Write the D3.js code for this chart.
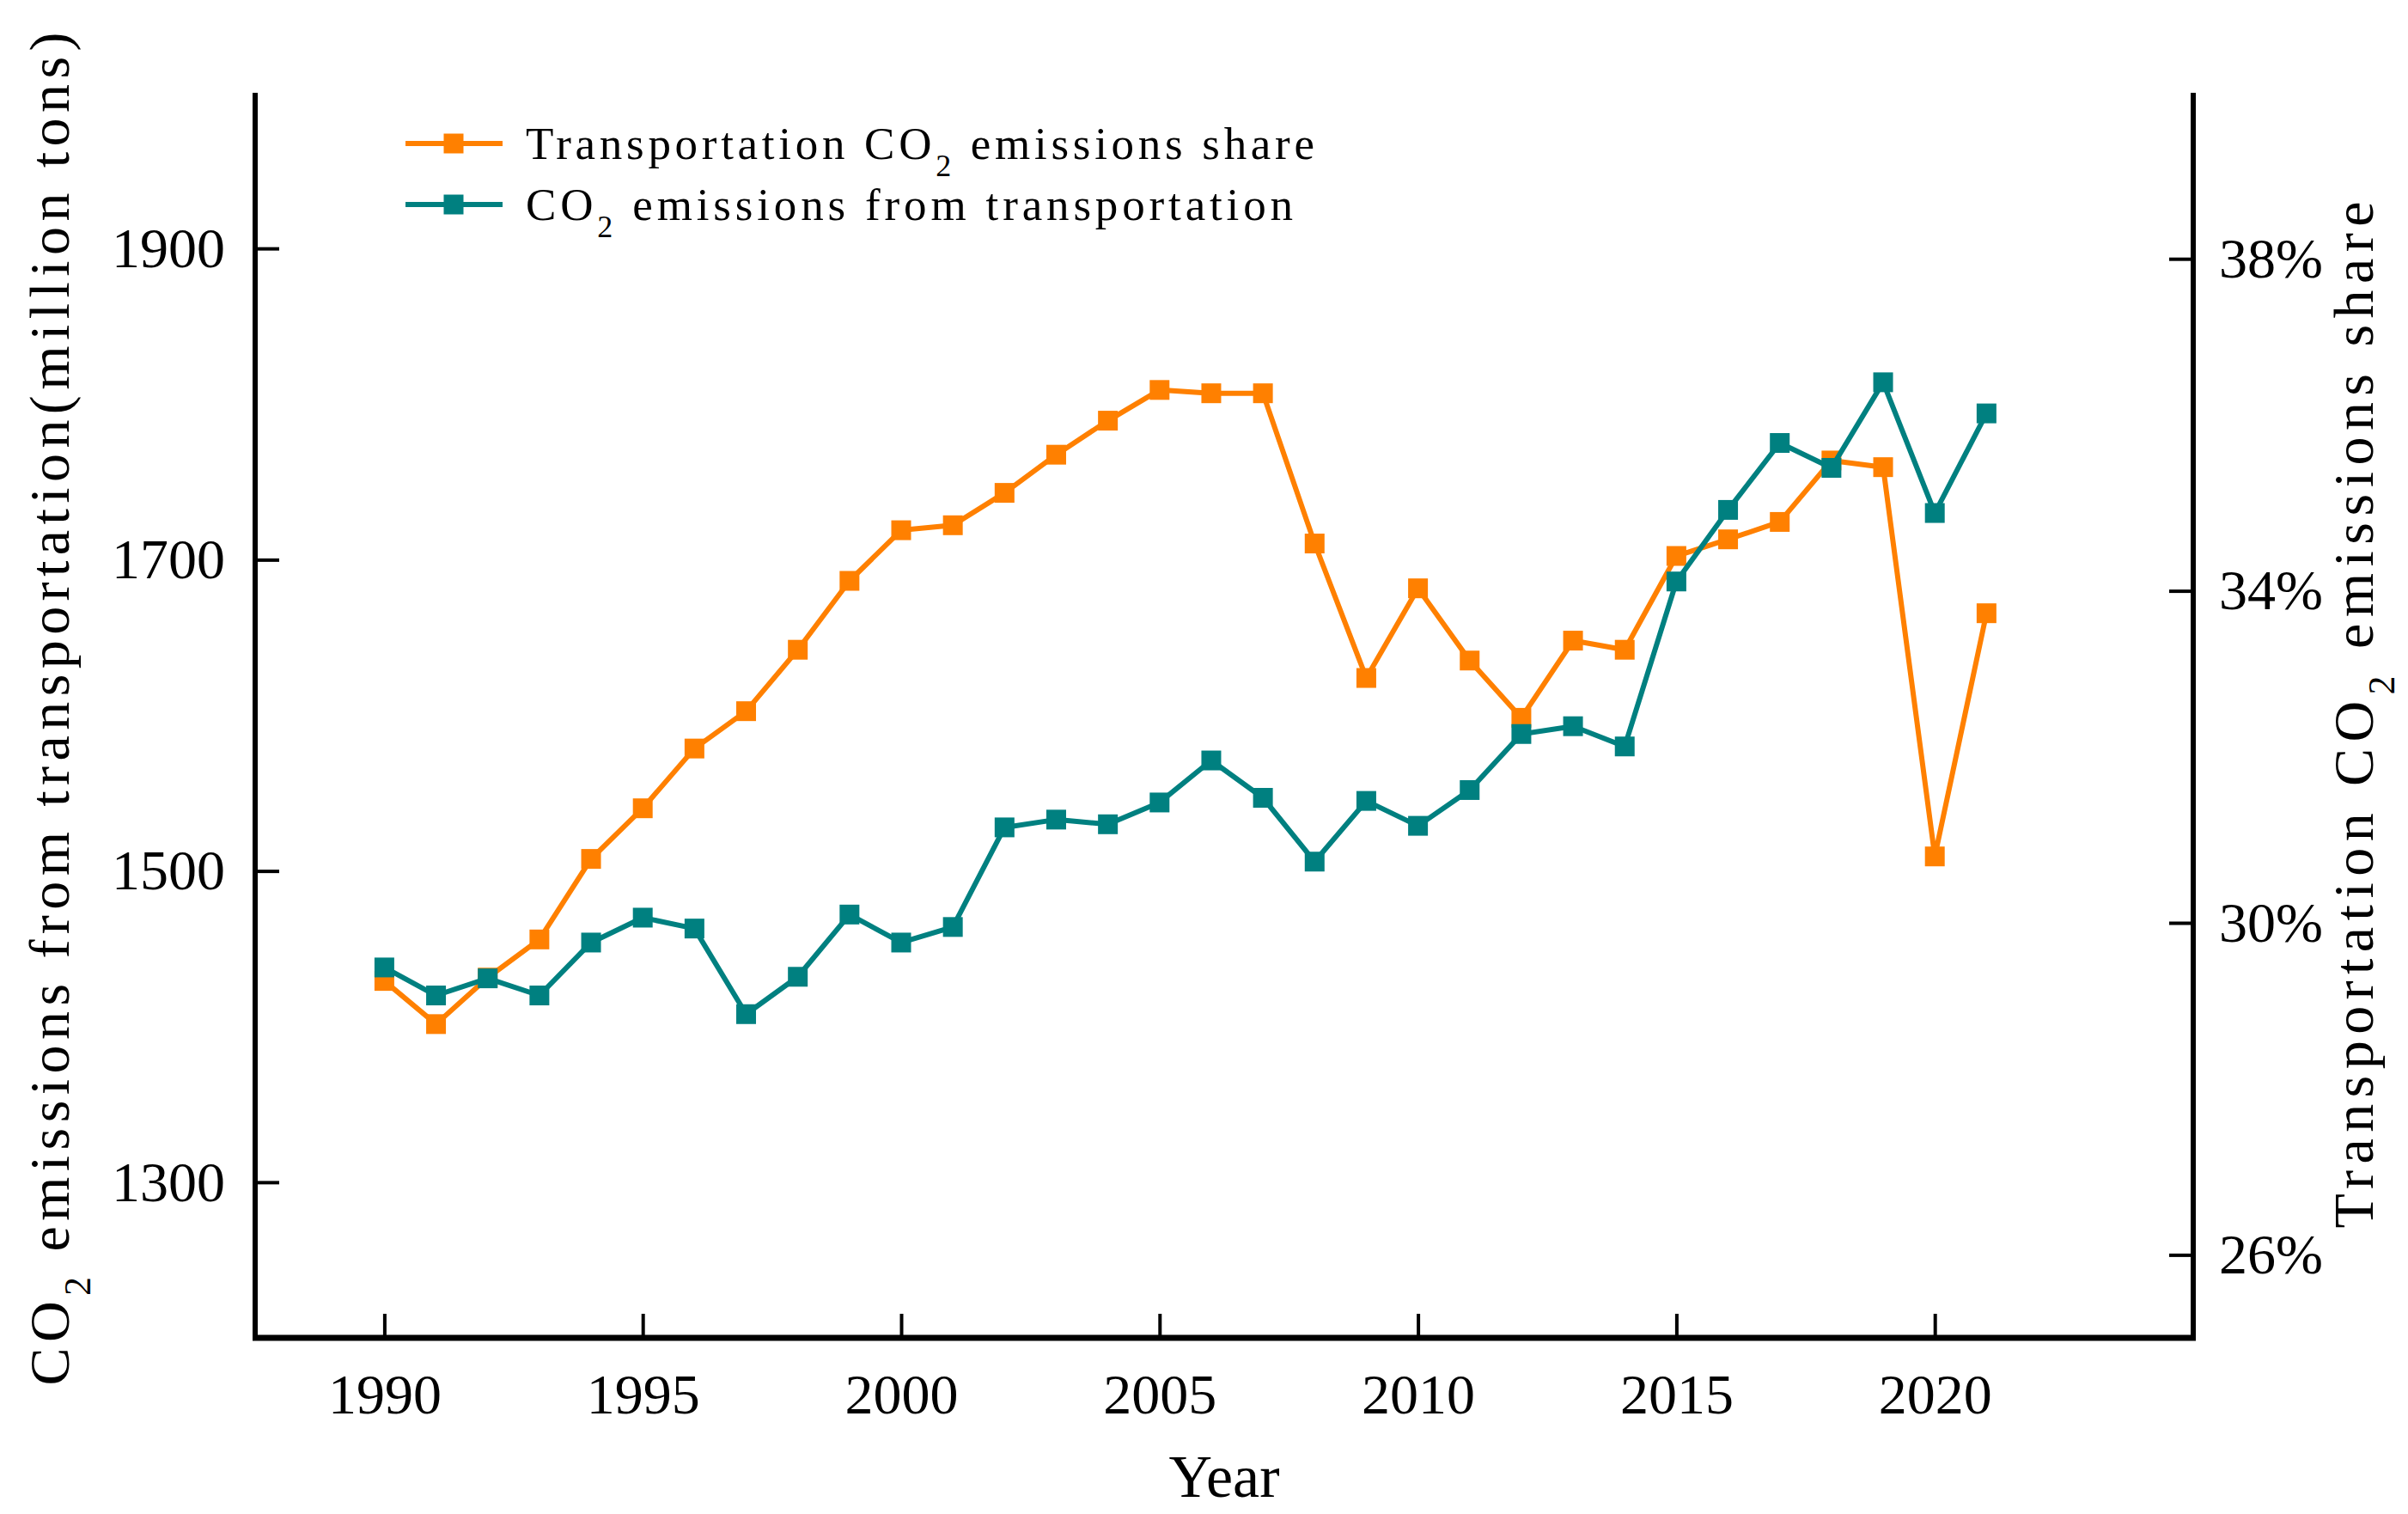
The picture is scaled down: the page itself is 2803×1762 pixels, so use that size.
<!DOCTYPE html>
<html>
<head>
<meta charset="utf-8">
<script src="https://cdn.jsdelivr.net/npm/d3@7/dist/d3.min.js"></script>
<style>
  body { margin: 0; background: #fff; }
</style>
</head>
<body>
<svg id="chart"></svg>
<script>
// Jahre und Werte
var years = [1990, 1991, 1992, 1993, 1994, 1995, 1996, 1997, 1998, 1999,
             2000, 2001, 2002, 2003, 2004, 2005, 2006, 2007, 2008, 2009,
             2010, 2011, 2012, 2013, 2014, 2015, 2016, 2017, 2018, 2019,
             2020, 2021];
// CO2 emissions from transportation (million tons) - linke Achse
var emissions = [1438, 1420, 1431, 1420, 1454, 1470, 1463, 1408, 1432, 1472,
                 1454, 1464, 1528, 1533, 1530, 1544, 1571, 1547, 1506, 1545,
                 1529, 1552, 1588, 1593, 1580, 1686, 1732, 1775, 1759, 1814,
                 1730, 1794];
// Transportation CO2 emissions share (%) - rechte Achse
var share = [29.30, 28.78, 29.34, 29.80, 30.77, 31.38, 32.10, 32.55, 33.29, 34.12,
             34.73, 34.79, 35.18, 35.64, 36.05, 36.42, 36.38, 36.38, 34.57, 32.95,
             34.03, 33.16, 32.47, 33.40, 33.29, 34.42, 34.62, 34.83, 35.57, 35.49,
             30.80, 33.73];
var yearTicks = [1990, 1995, 2000, 2005, 2010, 2015, 2020];
var leftTicks = [1300, 1500, 1700, 1900];
var rightTicks = [26, 30, 34, 38];

var orange = '#ff8000';
var teal = '#008080';
var font = '"Liberation Serif", "DejaVu Serif", serif';

var W = 2803, H = 1762;
var plot = { left: 297, right: 2553, top: 108, bottom: 1557 };
var markerSize = 23;

var svg = d3.select('#chart')
  .attr('width', W)
  .attr('height', H)
  .style('font-family', font);

var x = d3.scaleLinear().domain([1987.5, 2025]).range([plot.left, plot.right]);
var yL = d3.scaleLinear().domain([1200, 2000]).range([plot.bottom, plot.top]);
var yR = d3.scaleLinear().domain([25, 40]).range([plot.bottom, plot.top]);

// Achsen
function styleAxis(g) {
  g.select('.domain').remove();
  g.selectAll('.tick line').attr('stroke', '#000').attr('stroke-width', 4);
  g.selectAll('.tick text')
    .attr('fill', '#000')
    .style('font-family', font)
    .style('font-size', '66px');
}

svg.append('g')
  .attr('transform', 'translate(' + plot.left + ',0)')
  .call(d3.axisLeft(yL).tickValues(leftTicks).tickSizeInner(-28).tickSizeOuter(0).tickPadding(35)
    .tickFormat(d3.format('d')))
  .call(styleAxis);

svg.append('g')
  .attr('transform', 'translate(' + plot.right + ',0)')
  .call(d3.axisRight(yR).tickValues(rightTicks).tickSizeInner(-28).tickSizeOuter(0).tickPadding(30)
    .tickFormat(function(d) { return d + '%'; }))
  .call(styleAxis);

svg.append('g')
  .attr('transform', 'translate(0,' + plot.bottom + ')')
  .call(d3.axisBottom(x).tickValues(yearTicks).tickSizeInner(-28).tickSizeOuter(0).tickPadding(41)
    .tickFormat(d3.format('d')))
  .call(styleAxis);

// Rahmenlinien
svg.append('line').attr('x1', plot.left).attr('x2', plot.left)
  .attr('y1', plot.top).attr('y2', plot.bottom + 3)
  .attr('stroke', '#000').attr('stroke-width', 6);
svg.append('line').attr('x1', plot.right).attr('x2', plot.right)
  .attr('y1', plot.top).attr('y2', plot.bottom + 3)
  .attr('stroke', '#000').attr('stroke-width', 6);
svg.append('line').attr('x1', plot.left - 3).attr('x2', plot.right + 3)
  .attr('y1', plot.bottom).attr('y2', plot.bottom)
  .attr('stroke', '#000').attr('stroke-width', 7);

// Achsentitel
svg.append('text')
  .attr('x', (plot.left + plot.right) / 2)
  .attr('y', 1742)
  .attr('text-anchor', 'middle')
  .style('font-size', '70px')
  .text('Year');

var leftTitle = svg.append('text')
  .attr('transform', 'translate(80,825) rotate(-90)')
  .attr('text-anchor', 'middle')
  .attr('textLength', 1575)
  .attr('lengthAdjust', 'spacing')
  .style('font-size', '66px');
leftTitle.append('tspan').text('CO');
leftTitle.append('tspan').attr('baseline-shift', 'sub').style('font-size', '44px').text('2');
leftTitle.append('tspan').text(' emissions from transportation(million tons)');

var rightTitle = svg.append('text')
  .attr('transform', 'translate(2762,832) rotate(-90)')
  .attr('text-anchor', 'middle')
  .attr('textLength', 1195)
  .attr('lengthAdjust', 'spacing')
  .style('font-size', '66px');
rightTitle.append('tspan').text('Transportation CO');
rightTitle.append('tspan').attr('baseline-shift', 'sub').style('font-size', '44px').text('2');
rightTitle.append('tspan').text(' emissions share');

// Datenreihen
var shareData = years.map(function(y, i) { return { year: y, value: share[i] }; });
var emisData = years.map(function(y, i) { return { year: y, value: emissions[i] }; });

function drawSeries(data, yScale, color) {
  var line = d3.line()
    .x(function(d) { return x(d.year); })
    .y(function(d) { return yScale(d.value); });
  svg.append('path')
    .datum(data)
    .attr('d', line)
    .attr('fill', 'none')
    .attr('stroke', color)
    .attr('stroke-width', 6)
    .attr('stroke-linejoin', 'round');
  svg.append('g').selectAll('rect')
    .data(data)
    .enter().append('rect')
    .attr('x', function(d) { return x(d.year) - markerSize / 2; })
    .attr('y', function(d) { return yScale(d.value) - markerSize / 2; })
    .attr('width', markerSize)
    .attr('height', markerSize)
    .attr('fill', color);
}

drawSeries(shareData, yR, orange);
drawSeries(emisData, yL, teal);

// Legende
var legendItems = [
  { color: orange, pre: 'Transportation CO', post: ' emissions share', y: 167, len: 918 },
  { color: teal, pre: 'CO', post: ' emissions from transportation', y: 238, len: 893 }
];
var legend = svg.append('g');
legendItems.forEach(function(item) {
  legend.append('line')
    .attr('x1', 472).attr('x2', 585)
    .attr('y1', item.y).attr('y2', item.y)
    .attr('stroke', item.color).attr('stroke-width', 6);
  legend.append('rect')
    .attr('x', 528 - markerSize / 2).attr('y', item.y - markerSize / 2)
    .attr('width', markerSize).attr('height', markerSize)
    .attr('fill', item.color);
  var t = legend.append('text')
    .attr('x', 612)
    .attr('y', item.y + 18)
    .attr('textLength', item.len)
    .attr('lengthAdjust', 'spacing')
    .style('font-size', '53px');
  t.append('tspan').text(item.pre);
  t.append('tspan').attr('baseline-shift', 'sub').style('font-size', '36px').text('2');
  t.append('tspan').text(item.post);
});
</script>
</body>
</html>
